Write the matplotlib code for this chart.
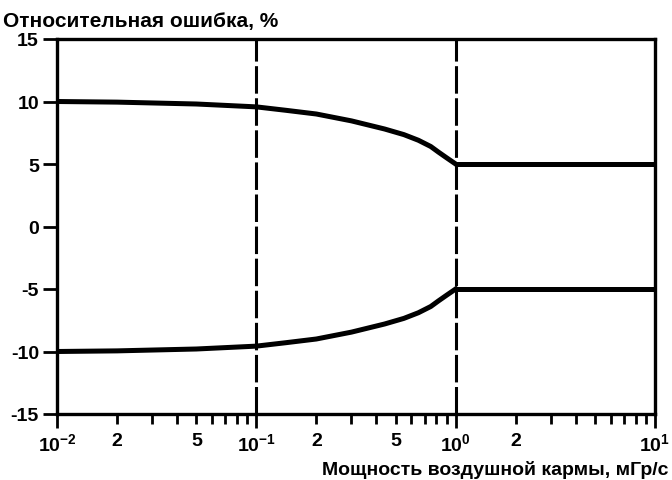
import numpy as np
import matplotlib
matplotlib.use("Agg")
import matplotlib.pyplot as plt
from matplotlib.ticker import FixedLocator, FixedFormatter

plt.rcParams['font.family'] = ['Liberation Sans', 'DejaVu Sans']
plt.rcParams['font.weight'] = 'bold'
plt.rcParams['mathtext.default'] = 'regular'

# Данные
x_curve = [0.01, 0.02, 0.05, 0.1, 0.14, 0.2, 0.3, 0.44, 0.55, 0.65, 0.75, 0.82, 0.9, 1.0]
err_upper = [10.0, 9.95, 9.8, 9.57, 9.3, 9.0, 8.45, 7.8, 7.35, 6.9, 6.4, 5.95, 5.5, 5.0]
err_lower = [-10.0, -9.95, -9.8, -9.57, -9.3, -9.0, -8.45, -7.8, -7.35, -6.9, -6.4, -5.95, -5.5, -5.0]
x_flat = [1.0, 10.0]
err_flat_upper = [5.0, 5.0]
err_flat_lower = [-5.0, -5.0]
x_bounds = [0.1, 1.0]

y_ticks = [-15, -10, -5, 0, 5, 10, 15]
x_major = [0.01, 0.1, 1.0, 10.0]
x_major_labels = ['$10^{-2}$', '$10^{-1}$', '$10^{0}$', '$10^{1}$']
x_minor = [d * m for d in [0.01, 0.1, 1.0] for m in range(2, 10)]
minor_labels = {0.02: '2', 0.05: '5', 0.2: '2', 0.5: '5', 2.0: '2'}

fig = plt.figure(figsize=(6.72, 4.81), dpi=100)
ax = fig.add_axes([57/672, 1 - 415/481, (655 - 57)/672, (415 - 40)/481])

for xb in x_bounds:
    ax.axvline(xb, color='black', lw=2.2, dashes=(9, 1.5))

ax.plot(x_curve, err_upper, color='black', lw=3.6, solid_joinstyle='round')
ax.plot(x_curve, err_lower, color='black', lw=3.6, solid_joinstyle='round')
ax.plot(x_flat, err_flat_upper, color='black', lw=3.6, solid_capstyle='butt')
ax.plot(x_flat, err_flat_lower, color='black', lw=3.6, solid_capstyle='butt')

ax.set_xscale('log')
ax.set_xlim(0.01, 10)
ax.set_ylim(-15, 15)

ax.xaxis.set_major_locator(FixedLocator(x_major))
ax.xaxis.set_major_formatter(FixedFormatter(x_major_labels))
ax.xaxis.set_minor_locator(FixedLocator(x_minor))
ax.xaxis.set_minor_formatter(FixedFormatter(
    [minor_labels.get(round(v, 4), '') for v in x_minor]))
ax.set_yticks(y_ticks)
ax.set_yticklabels([str(v) for v in y_ticks])

ax.tick_params(axis='both', which='major', direction='out', length=10,
               width=2, labelsize=14, pad=3)
ax.tick_params(axis='x', which='minor', direction='out', length=7,
               width=2, labelsize=14, pad=6)
for lab in ax.get_xticklabels() + ax.get_xticklabels(minor=True) + ax.get_yticklabels():
    lab.set_fontweight('bold')

for sp in ax.spines.values():
    sp.set_linewidth(2.4)

fig.text(3/672, 1 - 22/481, 'Относительная ошибка, %', fontsize=15,
         fontweight='bold', ha='left', va='center')
fig.text(669/672, 1 - 470/481, 'Мощность воздушной кармы, мГр/с',
         fontsize=14, fontweight='bold', ha='right', va='center')

fig.savefig('out.png', dpi=100)
